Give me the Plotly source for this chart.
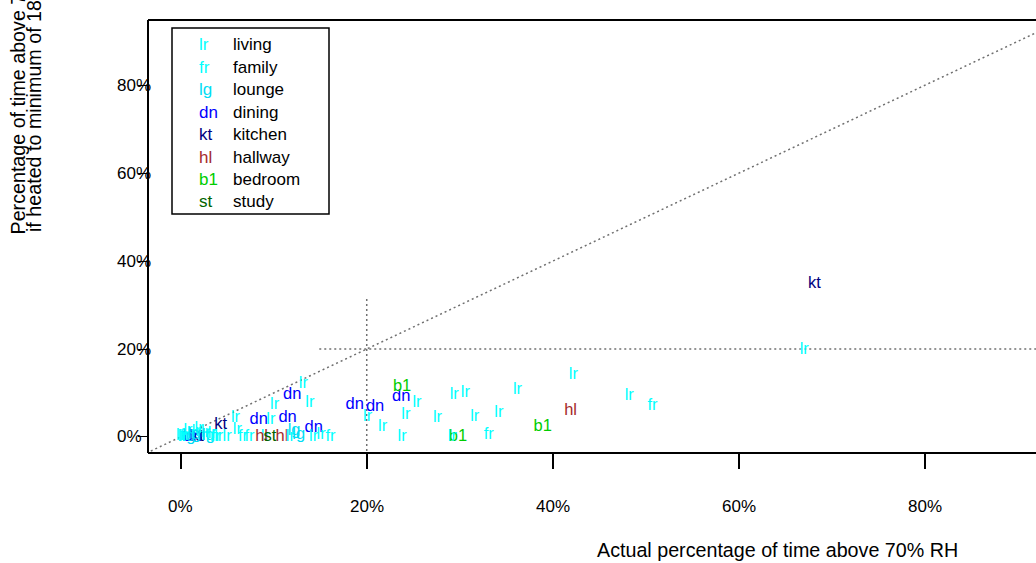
import plotly.graph_objects as go

# ---- data -------------------------------------------------------------
room_codes = ["lr", "fr", "lg", "dn", "kt", "hl", "b1", "st"]
room_names = ["living", "family", "lounge", "dining", "kitchen", "hallway", "bedroom", "study"]
room_colors = ["#00FFFF", "#00FFFF", "#00DDF5", "#0000FF", "#000080", "#A52A2A", "#00CD00", "#006400"]

# listed in drawing order (later entries are drawn on top)
room = ["kt", "dn", "lr", "lr", "lr", "lr", "fr", "hl", "b1", "lr",
        "lr", "lr", "lr", "lr", "lr", "fr", "lr", "b1", "lr", "lr",
        "lr", "lr", "dn", "b1", "dn", "dn", "lr", "lr", "dn", "lr",
        "lr", "lr", "dn", "lr", "dn", "dn", "lr", "fr", "lg", "lg",
        "lr", "hl", "st", "hl", "fr", "fr", "lr", "kt", "lr", "lr",
        "lr", "fr", "lg", "lr", "lr", "fr", "lr", "lg", "lr", "fr",
        "lr", "lr", "lr", "lr", "lr", "fr", "lg", "kt"]
actual_pct = [1.8, 1.3, 0.0, 0.8, 2.0, 67.0, 50.7, 41.9, 38.9, 42.2,
              48.2, 36.2, 30.6, 29.4, 34.2, 33.1, 31.6, 29.8, 27.6, 29.2,
              23.8, 21.7, 23.7, 23.8, 18.7, 20.9, 24.2, 25.4, 12.0, 20.1,
              13.2, 13.9, 8.4, 10.1, 11.5, 14.3, 15.1, 16.1, 12.7, 12.2,
              9.1, 8.7, 9.6, 10.9, 6.7, 7.4, 14.3, 4.3, 5.9, 6.1,
              4.1, 0.5, 0.9, 1.2, 1.7, 2.3, 2.7, 3.0, 3.4, 3.8,
              5.0, 0.3, 0.2, 11.8, 9.7, 3.2, 1.5, 68.1]
heated_pct = [0.0, 0.0, 0.3, 1.5, 1.8, 19.8, 7.1, 6.0, 2.3, 14.2,
              9.4, 10.7, 10.0, 9.5, 5.5, 0.5, 4.5, 0.0, 4.3, 0.0,
              0.0, 2.3, 9.1, 11.4, 7.3, 6.8, 5.0, 7.7, 9.5, 4.5,
              12.0, 7.7, 3.9, 7.3, 4.3, 2.0, 0.5, 0.0, 0.5, 1.4,
              0.0, 0.0, 0.0, 0.0, 0.0, 0.0, 0.0, 2.7, 4.3, 1.6,
              0.0, 0.2, 0.0, 0.7, 1.1, 0.2, 0.9, 0.2, 0.7, 0.0,
              0.0, 0.0, 0.0, 0.0, 3.9, 0.0, 0.5, 34.8]

x_ticks = [0, 20, 40, 60, 80]
x_tick_labels = ["0%", "20%", "40%", "60%", "80%"]
y_ticks = [0, 20, 40, 60, 80]
y_tick_labels = ["0%", "20%", "40%", "60%", "80%"]

# reference lines (y = x and the 20% threshold cross)
diag_x = [-10, 100]
diag_y = [-10, 100]
vline_x = [20, 20]
vline_y = [-10, 31.6]
hline_x = [14.9, 100]
hline_y = [20, 20]

# ---- layout geometry (pixels) ----------------------------------------
W, H = 1036, 563
ML, MT, MB = 148, 20, 110
PW = W - ML
PH = H - MT - MB
FONT = "Liberation Sans, Arial, sans-serif"


def px_x(px):
    return (px - ML) / PW


def px_y(py):
    return (H - MB - py) / PH


color_of = dict(zip(room_codes, room_colors))

fig = go.Figure()

dot = dict(color="#707070", width=1.5, dash="2px,3px")
for xs, ys in [(diag_x, diag_y), (vline_x, vline_y), (hline_x, hline_y)]:
    fig.add_trace(go.Scatter(x=xs, y=ys, mode="lines", line=dot,
                             hoverinfo="skip", showlegend=False))

fig.add_trace(go.Scatter(x=actual_pct, y=heated_pct, mode="text", text=room,
                         textposition="middle center",
                         textfont=dict(family=FONT, size=16.5,
                                       color=[color_of[r] for r in room]),
                         showlegend=False))

annotations = []
for v, lab in zip(x_ticks, x_tick_labels):
    annotations.append(dict(x=v, xref="x", y=0, yref="paper", yshift=-53,
                            text=lab, showarrow=False, xanchor="center", yanchor="middle",
                            font=dict(family=FONT, size=17, color="#000000")))
for v, lab in zip(y_ticks, y_tick_labels):
    annotations.append(dict(x=0, xref="paper", xshift=115 - ML, y=v, yref="y",
                            text=lab, showarrow=False, xanchor="left", yanchor="middle",
                            font=dict(family=FONT, size=17, color="#000000")))

# axis titles
annotations.append(dict(x=px_x(777), xref="paper", y=px_y(550), yref="paper",
                        text="Actual percentage of time above 70% RH", showarrow=False,
                        xanchor="center", yanchor="middle",
                        font=dict(family=FONT, size=19.7, color="#000000")))
annotations.append(dict(x=px_x(18), xref="paper", y=px_y(237), yref="paper",
                        text="Percentage of time above 70% RH", textangle=-90,
                        showarrow=False, xanchor="center", yanchor="bottom",
                        font=dict(family=FONT, size=19.7, color="#000000")))
annotations.append(dict(x=px_x(34), xref="paper", y=px_y(234), yref="paper",
                        text="if heated to minimum of 18°C", textangle=-90,
                        showarrow=False, xanchor="center", yanchor="bottom",
                        font=dict(family=FONT, size=19.7, color="#000000")))

# legend (text symbols)
row_y = [45, 67.4, 89.8, 112.2, 134.6, 157, 179.4, 201.8]
for code, name, col, ry in zip(room_codes, room_names, room_colors, row_y):
    annotations.append(dict(x=px_x(197), xref="paper", y=px_y(ry), yref="paper",
                            text=code, showarrow=False, xanchor="left", yanchor="middle",
                            font=dict(family=FONT, size=17, color=col)))
    annotations.append(dict(x=px_x(231), xref="paper", y=px_y(ry), yref="paper",
                            text=name, showarrow=False, xanchor="left", yanchor="middle",
                            font=dict(family=FONT, size=17, color="#000000")))

shapes = [
    dict(type="line", xref="paper", yref="paper", x0=0, x1=0, y0=0, y1=1,
         line=dict(color="black", width=2)),
    dict(type="line", xref="paper", yref="paper", x0=0, x1=1, y0=0, y1=0,
         line=dict(color="black", width=2)),
    dict(type="line", xref="paper", yref="paper", x0=0, x1=1, y0=1, y1=1,
         line=dict(color="black", width=2)),
    dict(type="rect", xref="paper", yref="paper", x0=px_x(172), x1=px_x(329),
         y0=px_y(214), y1=px_y(28), line=dict(color="black", width=1.5),
         fillcolor="rgba(0,0,0,0)"),
]

fig.update_layout(
    width=W, height=H,
    margin=dict(l=ML, r=0, t=MT, b=MB, pad=0),
    paper_bgcolor="white", plot_bgcolor="white",
    showlegend=False,
    xaxis=dict(range=[-3.5, 91.9], tickvals=x_ticks, showticklabels=False,
               ticks="outside", ticklen=15, tickwidth=2, tickcolor="black",
               showgrid=False, zeroline=False, showline=False, fixedrange=True),
    yaxis=dict(range=[-3.64, 94.8], tickvals=y_ticks, showticklabels=False,
               ticks="outside", ticklen=9, tickwidth=1, tickcolor="black",
               showgrid=False, zeroline=False, showline=False, fixedrange=True),
    annotations=annotations,
    shapes=shapes,
)

fig.write_html("out.html")
